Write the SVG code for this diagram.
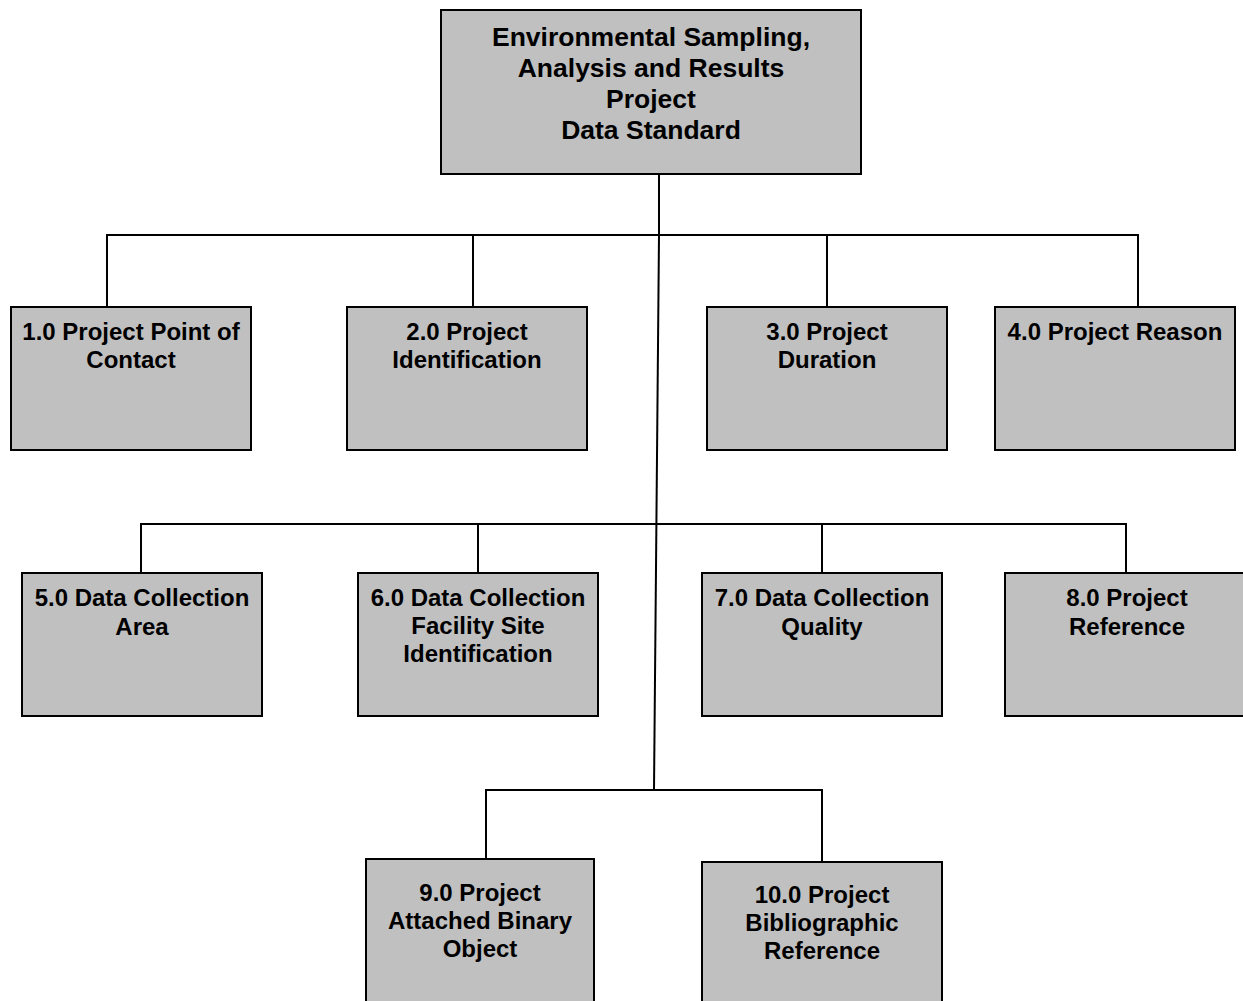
<svg xmlns="http://www.w3.org/2000/svg" width="1243" height="1001" viewBox="0 0 1243 1001">
<style>
.box{fill:#c0c0c0;stroke:#000;stroke-width:2}
.lbl{font-family:"Liberation Sans",Arial,sans-serif;font-weight:bold;font-size:24px;fill:#000;text-anchor:middle}
.title{font-size:26.5px}
.conn{fill:none;stroke:#000;stroke-width:2}
</style>
<rect width="1243" height="1001" fill="#fff"/>
<g id="connectors">
<path class="conn" d="M659,174 V235"/>
<path class="conn" d="M107,307 V235 H1138 V307"/>
<path class="conn" d="M473,235 V307"/>
<path class="conn" d="M827,235 V307"/>
<path class="conn" d="M659,235 L654,790"/>
<path class="conn" d="M141,573 V524 H1126 V573"/>
<path class="conn" d="M478,524 V573"/>
<path class="conn" d="M822,524 V573"/>
<path class="conn" d="M486,859 V790 H822 V862"/>
</g>
<g id="root">
<rect class="box" x="441" y="10" width="420" height="164"/>
<text class="lbl title" x="651" y="46">Environmental Sampling,</text>
<text class="lbl title" x="651" y="77">Analysis and Results</text>
<text class="lbl title" x="651" y="108">Project</text>
<text class="lbl title" x="651" y="139">Data Standard</text>
</g>
<g id="n1">
<rect class="box" x="11" y="307" width="240" height="143"/>
<text class="lbl" x="131" y="340">1.0 Project Point of</text>
<text class="lbl" x="131" y="368">Contact</text>
</g>
<g id="n2">
<rect class="box" x="347" y="307" width="240" height="143"/>
<text class="lbl" x="467" y="340">2.0 Project</text>
<text class="lbl" x="467" y="368">Identification</text>
</g>
<g id="n3">
<rect class="box" x="707" y="307" width="240" height="143"/>
<text class="lbl" x="827" y="340">3.0 Project</text>
<text class="lbl" x="827" y="368">Duration</text>
</g>
<g id="n4">
<rect class="box" x="995" y="307" width="240" height="143"/>
<text class="lbl" x="1115" y="340">4.0 Project Reason</text>
</g>
<g id="n5">
<rect class="box" x="22" y="573" width="240" height="143"/>
<text class="lbl" x="142" y="606">5.0 Data Collection</text>
<text class="lbl" x="142" y="635">Area</text>
</g>
<g id="n6">
<rect class="box" x="358" y="573" width="240" height="143"/>
<text class="lbl" x="478" y="606">6.0 Data Collection</text>
<text class="lbl" x="478" y="634">Facility Site</text>
<text class="lbl" x="478" y="662">Identification</text>
</g>
<g id="n7">
<rect class="box" x="702" y="573" width="240" height="143"/>
<text class="lbl" x="822" y="606">7.0 Data Collection</text>
<text class="lbl" x="822" y="635">Quality</text>
</g>
<g id="n8">
<rect class="box" x="1005" y="573" width="240" height="143"/>
<text class="lbl" x="1127" y="606">8.0 Project</text>
<text class="lbl" x="1127" y="635">Reference</text>
</g>
<g id="n9">
<rect class="box" x="366" y="859" width="228" height="150"/>
<text class="lbl" x="480" y="901">9.0 Project</text>
<text class="lbl" x="480" y="929">Attached Binary</text>
<text class="lbl" x="480" y="957">Object</text>
</g>
<g id="n10">
<rect class="box" x="702" y="862" width="240" height="150"/>
<text class="lbl" x="822" y="903">10.0 Project</text>
<text class="lbl" x="822" y="931">Bibliographic</text>
<text class="lbl" x="822" y="959">Reference</text>
</g>
</svg>
